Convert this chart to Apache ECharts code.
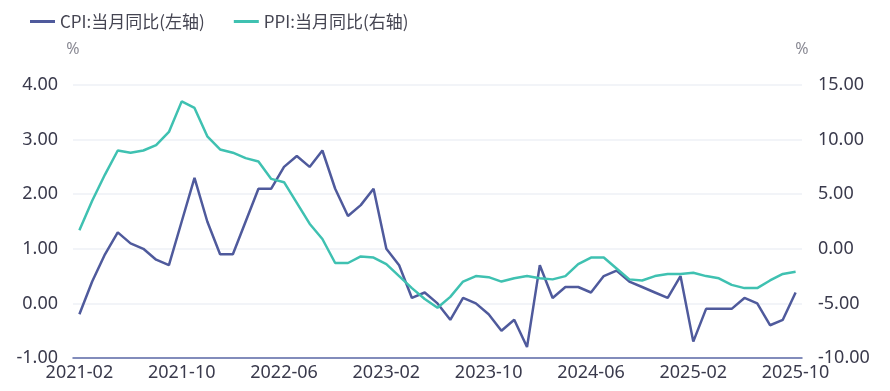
<!DOCTYPE html>
<html>
<head>
<meta charset="utf-8">
<script src="https://cdn.jsdelivr.net/npm/echarts@6/dist/echarts.min.js"></script>
<style>html,body{margin:0;padding:0;background:#fff;}#c{width:890px;height:391px;}</style>
</head>
<body>
<div id="c"></div>
<script>
const months = [];
(function(){ for (let y = 2021, m = 2; y < 2025 || (y === 2025 && m <= 10); ) { months.push(y + '-' + String(m).padStart(2,'0')); m++; if (m > 12) { m = 1; y++; } } })();
const cpi = [
  -0.2, 0.4, 0.9, 1.3, 1.1, 1.0, 0.8, 0.7, 1.5, 2.3, 1.5,
  0.9, 0.9, 1.5, 2.1, 2.1, 2.5, 2.7, 2.5, 2.8, 2.1, 1.6, 1.8,
  2.1, 1.0, 0.7, 0.1, 0.2, 0.0, -0.3, 0.1, 0.0, -0.2, -0.5, -0.3,
  -0.8, 0.7, 0.1, 0.3, 0.3, 0.2, 0.5, 0.6, 0.4, 0.3, 0.2, 0.1,
  0.5, -0.7, -0.1, -0.1, -0.1, 0.1, 0.0, -0.4, -0.3, 0.2
];
const ppi = [
  1.7, 4.4, 6.8, 9.0, 8.8, 9.0, 9.5, 10.7, 13.5, 12.9, 10.3,
  9.1, 8.8, 8.3, 8.0, 6.4, 6.1, 4.2, 2.3, 0.9, -1.3, -1.3, -0.7,
  -0.8, -1.4, -2.5, -3.6, -4.6, -5.4, -4.4, -3.0, -2.5, -2.6, -3.0, -2.7,
  -2.5, -2.7, -2.8, -2.5, -1.4, -0.8, -0.8, -1.8, -2.8, -2.9, -2.5, -2.3,
  -2.3, -2.2, -2.5, -2.7, -3.3, -3.6, -3.6, -2.9, -2.3, -2.1
];
const seriesNames = ['CPI:当月同比(左轴)', 'PPI:当月同比(右轴)'];
const leftTicks = {min: -1, max: 4, interval: 1};
const rightTicks = {min: -10, max: 15, interval: 5};

const FONT = '"Noto Sans", "Noto Sans CJK SC", sans-serif';
const chart = echarts.init(document.getElementById('c'), null, {renderer: 'canvas'});
chart.setOption({
  animation: false,
  color: ['#4f5a9c', '#3fc1b1'],
  textStyle: {fontFamily: FONT},
  legend: {
    left: 25, top: 8,
    icon: 'rect', itemWidth: 25, itemHeight: 3, itemGap: 29,
    textStyle: {fontSize: 17, color: '#454552', fontFamily: '"Noto Sans CJK SC", sans-serif'},
    data: seriesNames
  },
  grid: {left: 73, right: 88, top: 85, bottom: 33, containLabel: false},
  xAxis: {
    type: 'category', data: months, boundaryGap: true,
    axisLine: {onZero: false, lineStyle: {color: '#5d6aa6', width: 1.5}},
    axisTick: {show: false},
    axisLabel: {interval: 7, fontSize: 18, color: '#3a3a4c', margin: 6, fontFamily: FONT},
    splitLine: {show: false}
  },
  yAxis: [
    {
      type: 'value', min: leftTicks.min, max: leftTicks.max, interval: leftTicks.interval,
      name: '%', nameLocation: 'end', nameGap: 28,
      nameTextStyle: {fontSize: 16, color: '#8a8a94', align: 'center'},
      axisLine: {show: false}, axisTick: {show: false},
      axisLabel: {fontSize: 18, color: '#3a3a4c', margin: 15, formatter: v => v.toFixed(2)},
      splitLine: {lineStyle: {color: '#eef0f6', width: 1.5}}
    },
    {
      type: 'value', min: rightTicks.min, max: rightTicks.max, interval: rightTicks.interval,
      name: '%', nameLocation: 'end', nameGap: 28,
      nameTextStyle: {fontSize: 16, color: '#8a8a94', align: 'center'},
      axisLine: {show: false}, axisTick: {show: false},
      axisLabel: {fontSize: 18, color: '#3a3a4c', margin: 16, formatter: v => v.toFixed(2)},
      splitLine: {show: false}
    }
  ],
  series: [
    {name: seriesNames[0], type: 'line', yAxisIndex: 0, data: cpi, showSymbol: false, symbol: 'none', lineStyle: {width: 2.5}},
    {name: seriesNames[1], type: 'line', yAxisIndex: 1, data: ppi, showSymbol: false, symbol: 'none', lineStyle: {width: 2.5}}
  ]
});
</script>
</body>
</html>
